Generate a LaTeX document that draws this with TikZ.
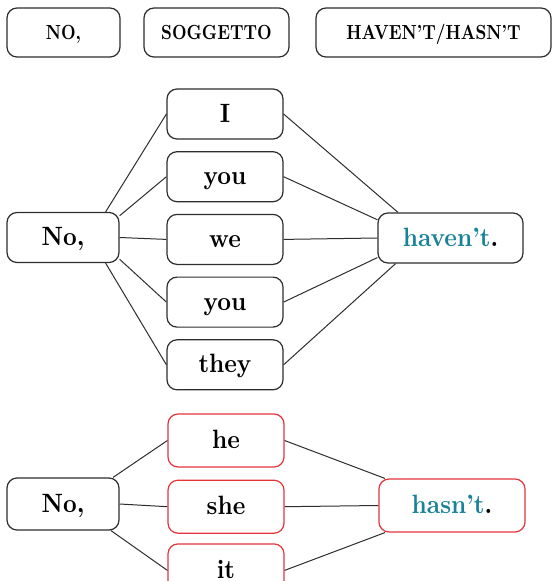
\documentclass[tikz,border=0pt]{standalone}
\usepackage{fontspec}
\newfontface\labelfont{lmroman10-bold.otf}[FakeStretch=0.9,Ligatures=TeX]
\newfontface\headfont{lmroman10-bold.otf}[FakeStretch=0.83,Ligatures=TeX]
\usetikzlibrary{positioning}
\definecolor{tealtext}{RGB}{24,130,152}
\definecolor{redframe}{RGB}{228,52,58}
\definecolor{darkline}{RGB}{45,45,45}

\begin{document}
\begin{tikzpicture}[x=1pt,y=-1pt,semithick]
  \tikzstyle{box}=[draw=darkline,line width=1.2pt,rounded corners=10pt,inner sep=0pt,
                   minimum height=50pt,text height=20pt,text depth=4pt,
                   font=\labelfont\fontsize{26.5}{30}\selectfont]
  \tikzstyle{head}=[box,minimum height=49pt,text height=17pt,text depth=3pt,
                    font=\headfont\fontsize{20.4}{24}\selectfont]
  \tikzstyle{pron}=[box,minimum width=116pt]
  \tikzstyle{redbox}=[draw=redframe,minimum height=53pt]
  \tikzstyle{every edge}=[draw=darkline,line width=1pt]

  \clip (0,0) rectangle (555,581);

  % header row
  \node[head,minimum width=113pt]	(h1) at (63.5,32.5)	{NO,};
  \node[head,minimum width=145pt]	(h2) at (216.5,32.5)	{SOGGETTO};
  \node[head,minimum width=235pt]	(h3) at (433.5,32.5)	{HAVEN'T/HASN'T};

  % haven't
  \node[box,minimum width=112pt]	(no1) at (63,237.5)	{No,};
  \node[pron]				(p1) at (225,114)	{I};
  \node[pron]	(p2) [below=11.5pt of p1]	{you};
  \node[pron]	(p3) [below=11.5pt of p2]	{we};
  \node[pron]	(p4) [below=11.5pt of p3]	{you};
  \node[pron]	(p5) [below=11.5pt of p4]	{they};
  \node[box,minimum width=145pt]	(v1) at (450.5,238)	{\textcolor{tealtext}{haven't}.};

  \path (no1.31) edge (p1.west);
  \path (no1.21) edge (p2.west);
  \path (no1.0) edge (p3.west);
  \path (no1.-21) edge (p4.west);
  \path (no1.-31) edge (p5.west);
  \path (p1.east) edge (v1.154);
  \path (p2.east) edge (v1.166);
  \path (p3.east) edge (v1.180);
  \path (p4.east) edge (v1.195);
  \path (p5.east) edge (v1.205);

  % hasn't
  \node[box,minimum width=112pt,minimum height=52pt]	(no2) at (63,504)	{No,};
  \node[pron,redbox]		(q1) at (226,440.5)	{he};
  \node[pron,redbox]	(q2) [below=12pt of q1]	{she};
  \node[pron,redbox]	(q3) [below=9.5pt of q2]	{it};
  \node[box,redbox,minimum width=146pt]	(v2) at (452,505.5)	{\textcolor{tealtext}{hasn't}.};

  \path (no2.28) edge (q1.west);
  \path (no2.0) edge (q2.west);
  \path (no2.-29) edge (q3.west);
  \path (q1.east) edge (v2.158);
  \path (q2.east) edge (v2.180);
  \path (q3.east) edge (v2.202);
\end{tikzpicture}
\end{document}
